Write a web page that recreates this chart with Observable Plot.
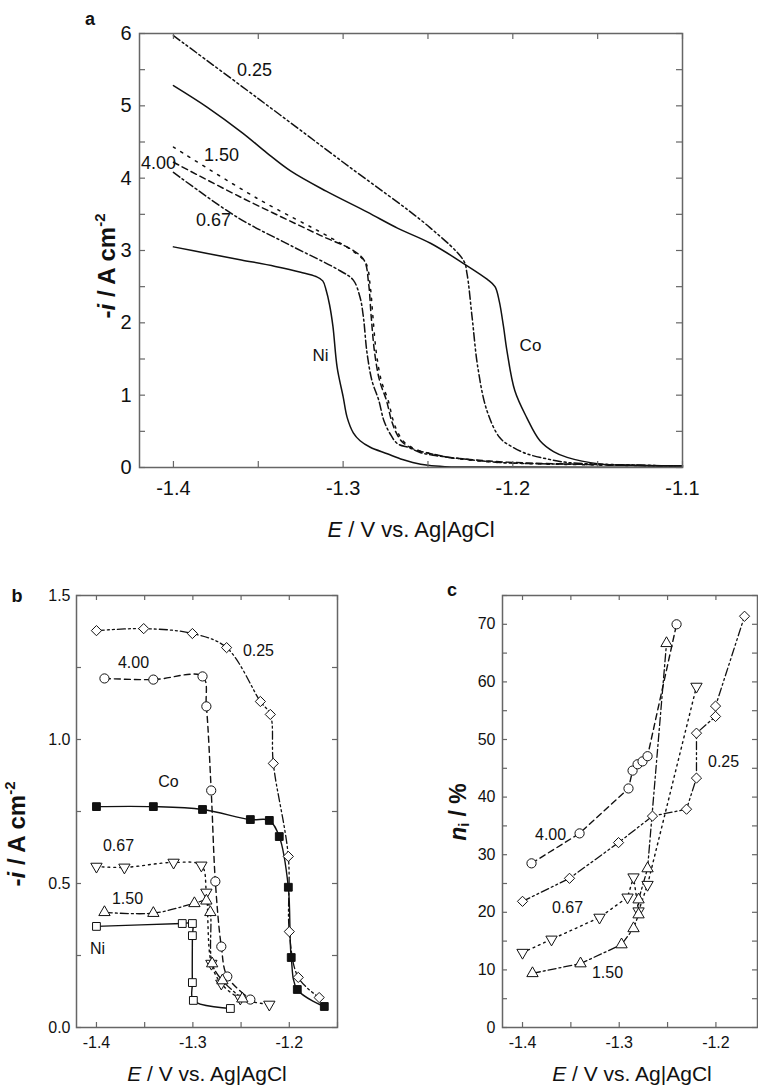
<!DOCTYPE html>
<html><head><meta charset="utf-8">
<script src="https://cdn.jsdelivr.net/npm/d3@7"></script>
<script src="https://cdn.jsdelivr.net/npm/@observablehq/plot@0.6"></script>
<style>
html,body{margin:0;padding:0;background:#fff;overflow:hidden;}
#wrap{position:relative;width:758px;height:1090px;font-family:"Liberation Sans",Arial,Helvetica,sans-serif;color:#111;}
.lab{position:absolute;white-space:nowrap;line-height:1;}
.lab sup{font-size:0.62em;vertical-align:0.65em;}
.lab sub{font-size:0.62em;vertical-align:-0.25em;}
</style></head><body><div id="wrap"></div>
<script>
const FONT = '"Liberation Sans", Arial, Helvetica, sans-serif';

// ---------- Panel a: polarisation curves, [E (V), -i (A cm-2)] ----------
const aNi = [[-1.400,3.05],[-1.380,2.96],[-1.360,2.87],[-1.340,2.78],[-1.325,2.70],[-1.316,2.64],[-1.312,2.58],[-1.310,2.45],[-1.308,2.25],[-1.306,1.95],[-1.3035,1.38],[-1.300,0.98],[-1.2976,0.69],[-1.294,0.48],[-1.290,0.37],[-1.284,0.28],[-1.274,0.19],[-1.265,0.11],[-1.259,0.07],[-1.250,0.03],[-1.240,0.012],[-1.200,0.006],[-1.100,0.005]];
const aCo = [[-1.400,5.28],[-1.380,4.98],[-1.359,4.62],[-1.345,4.35],[-1.331,4.10],[-1.310,3.82],[-1.2857,3.53],[-1.268,3.31],[-1.2485,3.10],[-1.229,2.82],[-1.215,2.60],[-1.2105,2.50],[-1.208,2.30],[-1.2055,1.95],[-1.2035,1.62],[-1.1988,1.06],[-1.1918,0.69],[-1.184,0.37],[-1.176,0.22],[-1.168,0.14],[-1.149,0.05],[-1.130,0.03],[-1.100,0.02]];
const a025 = [[-1.400,5.97],[-1.350,5.10],[-1.300,4.22],[-1.249,3.32],[-1.229,2.86],[-1.227,2.68],[-1.224,2.08],[-1.2206,1.38],[-1.2153,0.79],[-1.2076,0.41],[-1.200,0.28],[-1.1918,0.19],[-1.180,0.12],[-1.168,0.07],[-1.140,0.04],[-1.100,0.02]];
const a400 = [[-1.400,4.22],[-1.3606,3.74],[-1.3135,3.21],[-1.294,3.00],[-1.2875,2.86],[-1.285,2.55],[-1.2835,2.10],[-1.2815,1.60],[-1.2785,1.20],[-1.2745,0.93],[-1.2715,0.65],[-1.2685,0.47],[-1.265,0.35],[-1.258,0.25],[-1.250,0.20],[-1.240,0.15],[-1.220,0.10],[-1.200,0.07],[-1.150,0.04],[-1.100,0.02]];
const a150 = [[-1.400,4.43],[-1.3506,3.72],[-1.3076,3.18],[-1.293,2.97],[-1.2865,2.82],[-1.284,2.50],[-1.2825,2.10],[-1.2805,1.60],[-1.2775,1.20],[-1.2735,0.93],[-1.2705,0.65],[-1.2675,0.47],[-1.2635,0.34],[-1.256,0.24],[-1.248,0.19],[-1.238,0.14],[-1.220,0.09],[-1.200,0.06],[-1.150,0.035],[-1.100,0.02]];
const a067 = [[-1.400,4.08],[-1.3624,3.46],[-1.331,3.07],[-1.3018,2.72],[-1.294,2.59],[-1.290,2.35],[-1.288,2.07],[-1.286,1.60],[-1.283,1.20],[-1.279,0.93],[-1.276,0.65],[-1.2724,0.47],[-1.268,0.33],[-1.2606,0.27],[-1.255,0.21],[-1.247,0.17],[-1.230,0.12],[-1.2076,0.07],[-1.150,0.04],[-1.100,0.02]];
const aLabels = [["0.25",-1.3522,5.49],["1.50",-1.3717,4.32],["4.00",-1.4088,4.20],["0.67",-1.3764,3.42]];
const aMetalLabels = [["Ni",-1.3133,1.55],["Co",-1.1896,1.69]];
const aXTicks = [-1.4,-1.3,-1.2,-1.1];
const aXMinor = [-1.4,-1.35,-1.3,-1.25,-1.2,-1.15,-1.1];
const aYTicks = [0,1,2,3,4,5,6];
const aYMinor = [0,0.5,1,1.5,2,2.5,3,3.5,4,4.5,5,5.5,6];

// ---------- Panel b: partial currents, [E (V), -i (A cm-2)] ----------
const b025 = [[-1.400,1.378],[-1.351,1.385],[-1.3005,1.368],[-1.265,1.319],[-1.230,1.132],[-1.2197,1.087],[-1.2166,0.917],[-1.201,0.594],[-1.200,0.333],[-1.1907,0.174],[-1.169,0.104]];
const bCo = [[-1.400,0.767],[-1.341,0.767],[-1.290,0.757],[-1.2404,0.722],[-1.2207,0.719],[-1.2104,0.663],[-1.201,0.487],[-1.198,0.243],[-1.1917,0.132],[-1.1637,0.073]];
const b400 = [[-1.3917,1.212],[-1.341,1.208],[-1.290,1.219],[-1.286,1.115],[-1.281,0.823],[-1.2767,0.507],[-1.2705,0.281],[-1.2643,0.177],[-1.2404,0.097]];
const b067 = [[-1.400,0.559],[-1.371,0.556],[-1.320,0.573],[-1.2912,0.563],[-1.286,0.469],[-1.2808,0.222],[-1.2705,0.153],[-1.2508,0.101],[-1.2207,0.080]];
const b150 = [[-1.3917,0.400],[-1.341,0.397],[-1.2984,0.431],[-1.286,0.440],[-1.2819,0.400],[-1.280,0.222],[-1.2694,0.163],[-1.2487,0.100]];
const bNi = [[-1.400,0.351],[-1.311,0.361],[-1.3005,0.361],[-1.3005,0.319],[-1.3005,0.156],[-1.2995,0.094],[-1.2611,0.066]];
const bLabels = [["0.25",-1.232,1.306],["4.00",-1.3616,1.267],["Co",-1.3253,0.854],["0.67",-1.3771,0.632],["1.50",-1.3678,0.448],["Ni",-1.3989,0.274]];
const bXTicks = [-1.4,-1.3,-1.2];
const bXMinor = [-1.4,-1.35,-1.3,-1.25,-1.2,-1.15];
const bYTicks = [0,0.5,1,1.5];
const bYMinor = [0,0.25,0.5,0.75,1,1.25,1.5];

// ---------- Panel c: current efficiency n_i (%), [E (V), n_i] ----------
const c400 = [[-1.3907,28.5],[-1.341,33.7],[-1.2904,41.5],[-1.2862,44.6],[-1.281,45.7],[-1.2759,46.2],[-1.2707,47.1],[-1.2407,70.0]];
const c025 = [[-1.400,21.9],[-1.3514,25.9],[-1.3007,32.1],[-1.2656,36.7],[-1.2304,37.9],[-1.2201,43.3],[-1.2201,51.1],[-1.2004,54.0],[-1.2004,55.8],[-1.1704,71.4]];
const c067 = [[-1.400,13.0],[-1.370,15.3],[-1.3204,19.1],[-1.2914,22.6],[-1.2852,26.1],[-1.280,20.2],[-1.2707,24.8],[-1.2201,59.2]];
const c150 = [[-1.3897,9.4],[-1.340,11.1],[-1.2976,14.4],[-1.2852,17.2],[-1.280,19.6],[-1.280,22.2],[-1.2707,27.6],[-1.2511,66.7]];
const cLabels = [["0.25",-1.1921,46.2],["4.00",-1.371,33.5],["0.67",-1.3535,20.8],["1.50",-1.3121,9.4]];
const cXTicks = [-1.4,-1.3,-1.2];
const cXMinor = [-1.4,-1.35,-1.3,-1.25,-1.2];
const cYTicks = [0,10,20,30,40,50,60,70];
const cYMinor = [0,5,10,15,20,25,30,35,40,45,50,55,60,65,70,75];

// ---------- helpers ----------
const pts = arr => arr.map(([x, y]) => ({x, y}));
const txt = arr => arr.map(([t, x, y]) => ({t, x, y}));
const INK = "#111";
const FRAME = "#666";
const DASH = {solid: null, dash: "6,4", dot: "1.8,4", sparse: "2.2,6.5", dashdot: "8,3,2,3", dashdotdot: "8,3,2,3,2,3"};

const triDown = {
  draw(context, size) {
    const s3 = Math.sqrt(3);
    const y = Math.sqrt(size / (s3 * 3));
    context.moveTo(0, y * 2);
    context.lineTo(-s3 * y, -y);
    context.lineTo(s3 * y, -y);
    context.closePath();
  }
};

function inwardTicks(xs, ys, fw, fh, len) {
  const st = {stroke: FRAME, strokeWidth: 1.2};
  return [
    Plot.tickX(xs, {x: d => d, insetTop: fh - len, ...st}),
    Plot.tickX(xs, {x: d => d, insetBottom: fh - len, ...st}),
    Plot.tickY(ys, {y: d => d, insetRight: fw - len, ...st}),
    Plot.tickY(ys, {y: d => d, insetLeft: fw - len, ...st})
  ];
}

function line(arr, dash, curve = "catmull-rom", w = 1.5) {
  return Plot.line(pts(arr), {x: "x", y: "y", stroke: INK, strokeWidth: w, strokeDasharray: DASH[dash], curve});
}
function dots(arr, symbol, fill = "white", r = 4.3) {
  return Plot.dot(pts(arr), {x: "x", y: "y", symbol, r, stroke: INK, strokeWidth: 1, fill});
}

const wrap = document.getElementById("wrap");
function place(node, left, top) {
  const d = document.createElement("div");
  d.style.position = "absolute";
  d.style.left = left + "px";
  d.style.top = top + "px";
  d.appendChild(node);
  wrap.appendChild(d);
}
function label(html, cx, cy, size, weight, rotate) {
  const d = document.createElement("div");
  d.className = "lab";
  d.innerHTML = html;
  d.style.left = cx + "px";
  d.style.top = cy + "px";
  d.style.fontSize = size + "px";
  d.style.fontWeight = weight;
  d.style.transform = "translate(-50%,-50%)" + (rotate ? " rotate(-90deg)" : "");
  wrap.appendChild(d);
}

// ---------- Panel a ----------
{
  const W = 758, H = 545, mL = 139, mR = 76, mT = 33, mB = 78;
  const fw = W - mL - mR, fh = H - mT - mB;
  const chart = Plot.plot({
    width: W, height: H, marginLeft: mL, marginRight: mR, marginTop: mT, marginBottom: mB,
    style: {fontFamily: FONT, background: "white", color: INK},
    x: {domain: [-1.42, -1.1]},
    y: {domain: [0, 6]},
    marks: [
      line(aNi, "solid"),
      line(aCo, "solid"),
      line(a025, "dashdotdot"),
      line(a400, "dash"),
      line(a150, "sparse"),
      line(a067, "dashdot"),
      Plot.text(txt(aLabels), {x: "x", y: "y", text: "t", fontSize: 18, fill: INK}),
      Plot.text(txt(aMetalLabels), {x: "x", y: "y", text: "t", fontSize: 17, fill: INK}),
      ...inwardTicks(aXMinor, aYMinor, fw, fh, 6),
      Plot.frame({stroke: FRAME, strokeWidth: 1.5}),
      Plot.axisX(aXTicks, {anchor: "bottom", tickSize: 0, tickPadding: 13, fontSize: 20, tickFormat: d => d.toFixed(1), label: null}),
      Plot.axisY(aYTicks, {anchor: "left", tickSize: 0, tickPadding: 8, fontSize: 20, tickFormat: d => String(d), label: null})
    ]
  });
  place(chart, 0, 0);
  label("a", 90, 19, 18, "bold");
  label("-<i>i</i> / A cm<sup>-2</sup>", 106, 266, 24, "bold", true);
  label("<i>E</i> / V vs. Ag|AgCl", 411, 530, 22, "normal");
}

// ---------- Panel b ----------
{
  const W = 380, H = 530, mL = 76, mR = 43, mT = 35, mB = 63;
  const fw = W - mL - mR, fh = H - mT - mB;
  const chart = Plot.plot({
    width: W, height: H, marginLeft: mL, marginRight: mR, marginTop: mT, marginBottom: mB,
    style: {fontFamily: FONT, background: "white", color: INK},
    x: {domain: [-1.4207, -1.15]},
    y: {domain: [0, 1.5]},
    marks: [
      line(b025, "dashdotdot", "catmull-rom", 1.3),
      line(b400, "dash", "catmull-rom", 1.4),
      line(b067, "dot", "catmull-rom", 1.4),
      line(b150, "dashdot", "catmull-rom", 1.3),
      line(bCo, "solid", "catmull-rom", 1.4),
      line(bNi, "solid", "catmull-rom", 1.4),
      dots(b025, "diamond2", "white", 4.6),
      dots(b400, "circle", "white", 4.6),
      dots(b067, triDown, "white", 4.2),
      dots(b150, "triangle", "white", 4.2),
      dots(bNi, "square", "white", 4.4),
      dots(bCo, "square", INK, 4.4),
      Plot.text(txt(bLabels), {x: "x", y: "y", text: "t", fontSize: 16, fill: INK}),
      ...inwardTicks(bXMinor, bYMinor, fw, fh, 5),
      Plot.frame({stroke: FRAME, strokeWidth: 1.5}),
      Plot.axisX(bXTicks, {anchor: "bottom", tickSize: 0, tickPadding: 9, fontSize: 16, tickFormat: d => d.toFixed(1), label: null}),
      Plot.axisY(bYTicks, {anchor: "left", tickSize: 0, tickPadding: 6, fontSize: 16, tickFormat: d => d.toFixed(1), label: null})
    ]
  });
  place(chart, 0, 560);
  label("b", 17, 596, 18, "bold");
  label("-<i>i</i> / A cm<sup>-2</sup>", 16, 834, 24, "bold", true);
  label("<i>E</i> / V vs. Ag|AgCl", 207, 1073, 21, "normal");
}

// ---------- Panel c ----------
{
  const W = 378, H = 530, mL = 122, mR = 1, mT = 35, mB = 63;
  const fw = W - mL - mR, fh = H - mT - mB;
  const chart = Plot.plot({
    width: W, height: H, marginLeft: mL, marginRight: mR, marginTop: mT, marginBottom: mB,
    style: {fontFamily: FONT, background: "white", color: INK},
    x: {domain: [-1.4207, -1.157]},
    y: {domain: [0, 75]},
    marks: [
      line(c400, "dash", "linear", 1.4),
      line(c025, "dashdotdot", "linear", 1.3),
      line(c067, "dot", "linear", 1.4),
      line(c150, "dashdot", "linear", 1.3),
      dots(c400, "circle", "white", 4.6),
      dots(c025, "diamond2", "white", 4.6),
      dots(c067, triDown, "white", 4.2),
      dots(c150, "triangle", "white", 4.2),
      Plot.text(txt(cLabels), {x: "x", y: "y", text: "t", fontSize: 16, fill: INK}),
      ...inwardTicks(cXMinor, cYMinor, fw, fh, 5),
      Plot.frame({stroke: FRAME, strokeWidth: 1.5}),
      Plot.axisX(cXTicks, {anchor: "bottom", tickSize: 0, tickPadding: 9, fontSize: 16, tickFormat: d => d.toFixed(1), label: null}),
      Plot.axisY(cYTicks, {anchor: "left", tickSize: 0, tickPadding: 7, fontSize: 16, tickFormat: d => String(d), label: null})
    ]
  });
  place(chart, 380, 560);
  label("c", 452, 590, 18, "bold");
  label("<i>n</i><sub>i</sub> / %", 459, 812, 23, "bold", true);
  label("<i>E</i> / V vs. Ag|AgCl", 632, 1073, 21, "normal");
}
</script></body></html>
